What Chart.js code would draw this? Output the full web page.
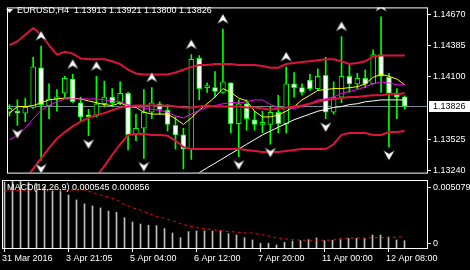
<!DOCTYPE html>
<html>
<head>
<meta charset="utf-8">
<title>EURUSD,H4</title>
<script src="https://cdn.jsdelivr.net/npm/chart.js@4.4.0/dist/chart.umd.min.js"></script>
<style>
  html, body { margin: 0; padding: 0; background: #000; }
  #wrap { position: relative; width: 470px; height: 270px; overflow: hidden; background: #000; }
  canvas { position: absolute; left: 0; }
  #priceChart { top: 0; }
  #macdChart { top: 178px; }
</style>
</head>
<body>
<div id="wrap">
  <canvas id="priceChart" width="470" height="180"></canvas>
  <canvas id="macdChart" width="470" height="92"></canvas>
</div>
<script>
// EURUSD H4 — candles, moving averages, Bollinger bands, fractals + MACD window

const symbolTitle = 'EURUSD,H4  1.13913 1.13921 1.13800 1.13826';
const macdTitle = 'MACD(12,26,9) 0.000545 0.000856';

// ── Price data (bar 0 = oldest visible bar) ──
const opens = [1.13771,1.13771,1.13763,1.13815,1.14179,1.13832,1.13893,1.13945,1.14075,1.13858,
  1.13737,1.13737,1.13849,1.13910,1.13858,1.13945,1.13563,1.13624,1.13771,1.13849,
  1.13789,1.13650,1.13563,1.13433,1.14265,1.13997,1.13997,1.13953,1.14040,1.13667,
  1.13849,1.13702,1.13659,1.13659,1.13771,1.13667,1.14031,1.13997,1.14066,1.13988,
  1.14109,1.13771,1.13910,1.14101,1.14031,1.14083,1.14031,1.14300,1.14092,1.13945,
  1.13913];
const highs = [1.13841,1.13884,1.13901,1.14274,1.14378,1.14031,1.13979,1.14101,1.14118,1.13910,
  1.13797,1.14101,1.14057,1.13988,1.14049,1.13953,1.13754,1.13979,1.13997,1.13867,
  1.13841,1.13728,1.13624,1.14300,1.14291,1.14040,1.14144,1.14534,1.14040,1.13884,
  1.13884,1.13780,1.13780,1.13823,1.13927,1.14187,1.14135,1.14031,1.14118,1.14170,
  1.14274,1.14049,1.14465,1.14205,1.14127,1.14161,1.14343,1.14647,1.14127,1.13988,
  1.13921];
const lows = [1.13737,1.13650,1.13685,1.13806,1.13329,1.13711,1.13780,1.13910,1.13858,1.13693,
  1.13555,1.13728,1.13823,1.13823,1.13841,1.13425,1.13511,1.13347,1.13711,1.13754,
  1.13598,1.13433,1.13251,1.13338,1.13884,1.13953,1.13910,1.13945,1.13581,1.13364,
  1.13607,1.13607,1.13581,1.13477,1.13581,1.13581,1.13910,1.13927,1.13971,1.13971,
  1.13711,1.13754,1.13858,1.13953,1.13988,1.13997,1.14031,1.13953,1.13451,1.13711,
  1.13800];
const closes = [1.13806,1.13763,1.13815,1.14187,1.13841,1.13893,1.13893,1.14083,1.13867,1.13728,
  1.13728,1.13849,1.13910,1.13858,1.13945,1.13563,1.13624,1.13771,1.13858,1.13797,
  1.13659,1.13563,1.13433,1.14257,1.13988,1.13997,1.13962,1.14049,1.13667,1.13849,
  1.13711,1.13659,1.13659,1.13771,1.13667,1.14031,1.13997,1.13953,1.13988,1.14101,
  1.13771,1.13910,1.14101,1.14031,1.14083,1.14031,1.14300,1.14101,1.13945,1.13910,
  1.13826];

// moving averages: fast (yellow), medium (magenta), slow (white)
const maFast = [1.13763,1.13823,1.13823,1.13832,1.13858,1.13884,1.13893,1.13901,1.13901,1.13893,
  1.13875,1.13858,1.13841,1.13832,1.13858,1.13823,1.13815,1.13771,1.13754,1.13754,
  1.13754,1.13711,1.13659,1.13719,1.13789,1.13849,1.13910,1.13988,1.13953,1.13901,
  1.13875,1.13780,1.13728,1.13728,1.13745,1.13780,1.13823,1.13884,1.13927,1.13971,
  1.13979,1.13988,1.13988,1.13997,1.14005,1.14031,1.14092,1.14118,1.14101,1.14075,
  1.14023];
const maMid = [1.13520,1.13555,1.13624,1.13711,1.13789,1.13832,1.13867,1.13893,1.13893,1.13893,
  1.13893,1.13893,1.13884,1.13875,1.13867,1.13841,1.13823,1.13806,1.13797,1.13789,
  1.13771,1.13737,1.13719,1.13754,1.13789,1.13815,1.13832,1.13849,1.13858,1.13858,
  1.13867,1.13884,1.13884,1.13841,1.13815,1.13815,1.13806,1.13823,1.13849,1.13884,
  1.13893,1.13910,1.13945,1.13962,1.13979,1.14005,1.14031,1.14049,1.14040,1.14023,
  1.14023];
const maSlow = [null,null,null,null,null,null,null,null,null,null,
  null,null,null,null,null,null,null,null,null,null,
  null,null,null,1.13173,1.13217,1.13260,1.13303,1.13347,1.13390,1.13433,
  1.13477,1.13520,1.13563,1.13598,1.13633,1.13667,1.13702,1.13728,1.13754,1.13780,
  1.13797,1.13815,1.13823,1.13841,1.13849,1.13867,1.13875,1.13884,1.13884,1.13884,
  1.13884];

// Bollinger bands
const bbUpper = [1.14387,1.14421,1.14482,1.14543,1.14482,1.14387,1.14300,1.14326,1.14309,1.14265,
  1.14257,1.14257,1.14257,1.14239,1.14213,1.14161,1.14127,1.14118,1.14118,1.14118,
  1.14118,1.14135,1.14161,1.14187,1.14205,1.14205,1.14213,1.14213,1.14213,1.14205,
  1.14205,1.14205,1.14196,1.14179,1.14179,1.14213,1.14222,1.14231,1.14239,1.14248,
  1.14257,1.14257,1.14239,1.14213,1.14222,1.14239,1.14283,1.14291,1.14291,1.14291,
  1.14291];
const bbMiddle = [1.12957,1.13061,1.13156,1.13251,1.13347,1.13442,1.13529,1.13589,1.13641,1.13685,
  1.13719,1.13745,1.13763,1.13789,1.13815,1.13823,1.13832,1.13832,1.13832,1.13832,
  1.13832,1.13823,1.13815,1.13815,1.13823,1.13832,1.13823,1.13823,1.13823,1.13823,
  1.13815,1.13815,1.13806,1.13797,1.13806,1.13815,1.13823,1.13832,1.13849,1.13867,
  1.13884,1.13893,1.13901,1.13910,1.13910,1.13919,1.13927,1.13927,1.13936,1.13936,
  1.13945];
const bbLower = [1.11527,1.11700,1.11830,1.11960,1.12211,1.12497,1.12757,1.12853,1.12974,1.13104,
  1.13182,1.13182,1.13277,1.13381,1.13477,1.13563,1.13572,1.13572,1.13563,1.13563,
  1.13555,1.13511,1.13451,1.13433,1.13433,1.13433,1.13433,1.13433,1.13433,1.13433,
  1.13425,1.13416,1.13407,1.13407,1.13407,1.13416,1.13425,1.13433,1.13433,1.13433,
  1.13433,1.13477,1.13563,1.13581,1.13581,1.13581,1.13563,1.13563,1.13589,1.13589,
  1.13598];

// fractal bars (index into the arrays above)
const fractalUp = [4, 8, 11, 18, 23, 27, 35, 42, 47];
const fractalDown = [1, 4, 10, 17, 29, 33, 40, 48];

// ── MACD window ──
const macdHist = [0.00493,0.005079,0.00500,0.00490,0.00478,0.00460,0.00426,0.00421,0.00396,0.00359,
  0.00329,0.00314,0.00299,0.00276,0.00267,0.00226,0.00194,0.00179,0.00170,0.00167,
  0.00145,0.00112,0.00077,0.00122,0.00127,0.00127,0.00127,0.00129,0.00107,0.00097,
  0.00077,0.00060,0.00035,0.00035,0.00022,0.00043,0.00052,0.00055,0.00062,0.00075,
  0.00055,0.00058,0.00062,0.00072,0.00072,0.00069,0.00097,0.00097,0.00082,0.00060,
  0.000545];
const macdSignal = [0.00424,0.00428,0.00431,0.00433,0.00435,0.00436,0.00436,0.00435,0.00434,0.00433,
  0.00432,0.00415,0.00396,0.00381,0.00359,0.00325,0.00301,0.00284,0.00259,0.00235,
  0.00223,0.00202,0.00182,0.00164,0.00153,0.00144,0.00137,0.00129,0.00123,0.00120,
  0.00112,0.00111,0.00101,0.00090,0.00075,0.00069,0.00063,0.00058,0.00058,0.00058,
  0.00058,0.00058,0.00071,0.00075,0.00076,0.00074,0.00077,0.00077,0.00080,0.00080,
  0.000856];
const macdMax = 0.005079;

// ── Axes ──
const priceMin = 1.13217;
const priceMax = 1.14733;
const priceTicks = [1.14670, 1.14385, 1.14100, 1.13525, 1.13240];
const timeTicks = [0, 8, 16, 24, 32, 40, 48];
const timeLabels = ['31 Mar 2016', '3 Apr 21:05', '5 Apr 04:00', '6 Apr 12:00', '7 Apr 20:00', '11 Apr 00:00', '12 Apr 08:00'];

// bar slots: 8px per bar
const xMin = -0.3125;
const xMax = 52.8125;

const FONT = '"Liberation Sans", Arial, sans-serif';
Chart.defaults.font.family = FONT;
Chart.defaults.font.size = 9;
Chart.defaults.color = '#ffffff';

const lastClose = closes[closes.length - 1];
const pts = arr => arr.map((v, i) => ({ x: i, y: v }));

// white arrow glyph, drawn off-centre so it clears the high / low
function makeArrow(up) {
  const c = document.createElement('canvas');
  c.width = 14; c.height = 36;
  const g = c.getContext('2d');
  const cy = up ? 8 : 26;
  const s = up ? 1 : -1;
  g.beginPath();
  g.moveTo(7, cy - 5.5 * s);
  g.lineTo(13, cy + 5 * s);
  g.lineTo(7, cy + 1.5 * s);
  g.lineTo(1, cy + 5 * s);
  g.closePath();
  g.fillStyle = '#ffffff';
  g.fill();
  g.strokeStyle = '#000000';
  g.lineWidth = 0.6;
  g.stroke();
  return c;
}

function lineSet(values, color, width, order) {
  return {
    type: 'line', data: pts(values), borderColor: color, borderWidth: width,
    pointRadius: 0, tension: 0, fill: false, order, clip: 0
  };
}

const priceOverlay = {
  id: 'priceOverlay',
  beforeDatasetsDraw(chart) {
    const { ctx, chartArea: a, scales: { y } } = chart;
    const py = Math.round(y.getPixelForValue(lastClose)) + 0.5;
    ctx.save();
    ctx.strokeStyle = '#778899';
    ctx.lineWidth = 1;
    ctx.beginPath();
    ctx.moveTo(a.left, py);
    ctx.lineTo(a.right, py);
    ctx.stroke();
    ctx.restore();
  },
  afterDraw(chart) {
    const { ctx, chartArea: a, scales: { y } } = chart;
    ctx.save();
    ctx.strokeStyle = '#ffffff';
    ctx.lineWidth = 1;
    ctx.strokeRect(a.left + 0.5, a.top + 0.5, a.right - a.left, a.bottom - a.top);

    // symbol line
    ctx.fillStyle = '#ffffff';
    ctx.beginPath();
    ctx.moveTo(6, 9); ctx.lineTo(13, 9); ctx.lineTo(9.5, 13); ctx.closePath();
    ctx.fill();
    ctx.font = '9px ' + FONT;
    ctx.textBaseline = 'middle';
    ctx.fillText(symbolTitle, 17, 11);

    // last price tag
    const py = Math.round(y.getPixelForValue(lastClose));
    ctx.fillRect(429, py - 5, 41, 11);
    ctx.fillStyle = '#000000';
    ctx.fillText(lastClose.toFixed(5), 433, py + 0.5);
    ctx.restore();
  }
};

const macdOverlay = {
  id: 'macdOverlay',
  afterDraw(chart) {
    const { ctx, chartArea: a, scales: { y } } = chart;
    ctx.save();
    ctx.strokeStyle = '#ffffff';
    ctx.lineWidth = 1;
    ctx.strokeRect(a.left + 0.5, a.top + 0.5, a.right - a.left, a.bottom - a.top);
    ctx.fillStyle = '#ffffff';
    ctx.font = '9px ' + FONT;
    ctx.textBaseline = 'middle';
    ctx.fillText(macdTitle, 7, a.top + 8);

    const yTop = Math.round(y.getPixelForValue(macdMax)) + 7;
    const yZero = Math.round(y.getPixelForValue(0)) - 5;
    [[yTop, macdMax.toFixed(6)], [yZero, '0']].forEach(([py, txt]) => {
      ctx.beginPath();
      ctx.moveTo(a.right, py + 0.5);
      ctx.lineTo(a.right + 4, py + 0.5);
      ctx.stroke();
      ctx.fillText(txt, a.right + 6, py + 0.5);
    });
    ctx.restore();
  }
};

const upArrow = makeArrow(true);
const downArrow = makeArrow(false);

new Chart(document.getElementById('priceChart'), {
  type: 'bar',
  data: {
    datasets: [
      {
        type: 'scatter', data: fractalUp.map(i => ({ x: i, y: highs[i] })),
        pointStyle: upArrow, pointRadius: 6, order: 0
      },
      {
        type: 'scatter', data: fractalDown.map(i => ({ x: i, y: lows[i] })),
        pointStyle: downArrow, pointRadius: 6, order: 0
      },
      lineSet(bbUpper, '#dc143c', 2, 1),
      lineSet(bbMiddle, '#dc143c', 2, 1),
      lineSet(bbLower, '#dc143c', 2, 1),
      lineSet(maSlow, '#ffffff', 1, 2),
      lineSet(maMid, '#ff00ff', 1, 3),
      lineSet(maFast, '#ffff00', 1, 3),
      {
        type: 'bar',
        data: opens.map((o, i) => ({ x: i, y: [o, closes[i]] })),
        backgroundColor: opens.map((o, i) => (closes[i] < o ? '#ffffff' : '#000000')),
        borderColor: '#00ff00', borderWidth: 1, borderSkipped: false,
        barThickness: 5, minBarLength: 2, grouped: false, order: 8
      },
      {
        type: 'bar',
        data: opens.map((o, i) => ({ x: i, y: [lows[i], highs[i]] })),
        backgroundColor: '#00ff00', barThickness: 1, grouped: false, order: 9
      }
    ]
  },
  options: {
    animation: false,
    responsive: false,
    devicePixelRatio: 1,
    events: [],
    layout: { padding: { left: 2, top: 2, right: 0, bottom: 3 } },
    plugins: { legend: { display: false }, tooltip: { enabled: false } },
    scales: {
      x: { type: 'linear', min: xMin, max: xMax, offset: false, bounds: 'data', display: false },
      y: {
        type: 'linear', position: 'right', min: priceMin, max: priceMax,
        bounds: 'data', beginAtZero: false,
        afterBuildTicks: s => { s.ticks = priceTicks.map(v => ({ value: v })); },
        afterFit: s => { s.width = 43; },
        ticks: { callback: v => v.toFixed(5), color: '#ffffff', padding: 2, autoSkip: false },
        grid: { drawOnChartArea: false, drawTicks: true, tickLength: 4, color: '#ffffff' },
        border: { display: false }
      }
    }
  },
  plugins: [priceOverlay]
});

new Chart(document.getElementById('macdChart'), {
  type: 'bar',
  data: {
    datasets: [
      {
        type: 'line', data: pts(macdSignal), borderColor: '#ff0000', borderWidth: 1,
        borderDash: [3, 3], pointRadius: 0, tension: 0, fill: false, order: 0
      },
      {
        type: 'bar', data: pts(macdHist), backgroundColor: '#c0c0c0',
        barThickness: 1, grouped: false, order: 1
      }
    ]
  },
  options: {
    animation: false,
    responsive: false,
    devicePixelRatio: 1,
    events: [],
    layout: { padding: { left: 2, top: 2, right: 43, bottom: 0 } },
    plugins: { legend: { display: false }, tooltip: { enabled: false } },
    scales: {
      x: {
        type: 'linear', min: xMin, max: xMax, offset: false, bounds: 'data',
        afterBuildTicks: s => { s.ticks = timeTicks.map(v => ({ value: v })); },
        afterFit: s => { s.height = 22; },
        ticks: {
          callback: (v, i) => timeLabels[i], color: '#ffffff', align: 'start',
          labelOffset: -2.5, padding: 1, maxRotation: 0, autoSkip: false
        },
        grid: { drawOnChartArea: false, drawTicks: true, tickLength: 4, color: '#ffffff', offset: false },
        border: { display: false }
      },
      y: { display: false, min: 0, max: macdMax, bounds: 'data' }
    }
  },
  plugins: [macdOverlay]
});
</script>
</body>
</html>
